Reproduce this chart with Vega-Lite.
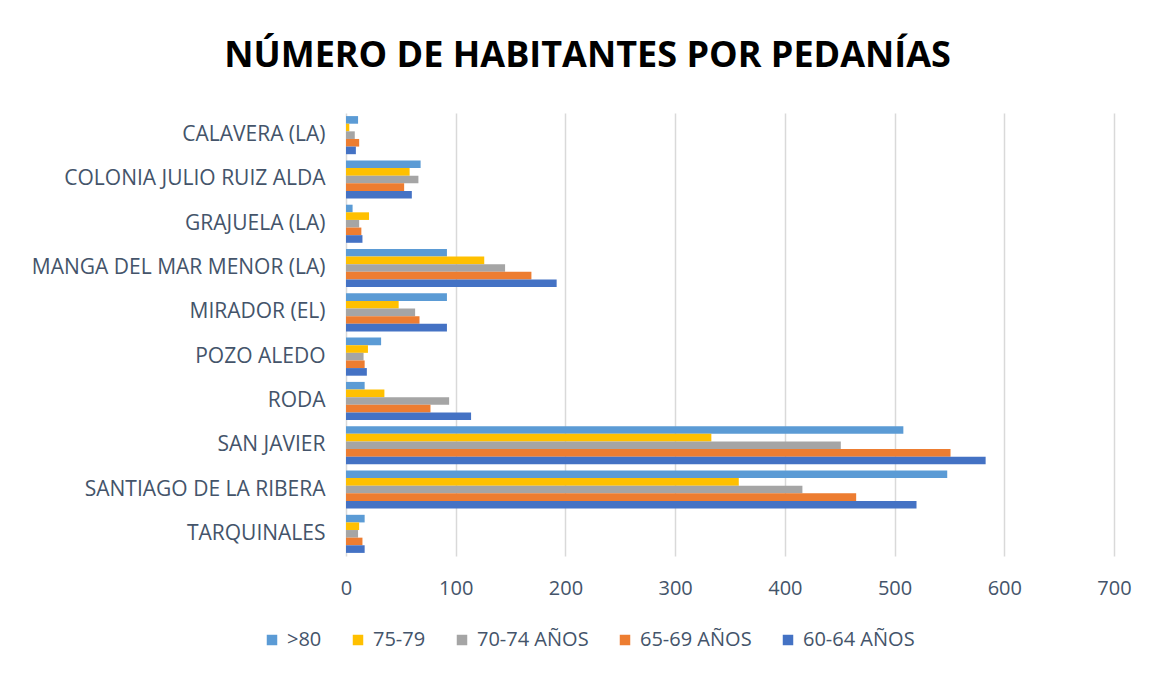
{
  "$schema": "https://vega.github.io/schema/vega-lite/v6.json",
  "width": 768,
  "height": 443,
  "padding": {"left": 16, "top": 38, "right": 20, "bottom": 10},
  "background": "white",
  "title": {
    "text": "NÚMERO DE HABITANTES POR PEDANÍAS",
    "font": "Open Sans",
    "fontSize": 36,
    "fontWeight": "bold",
    "color": "#000000",
    "anchor": "middle",
    "frame": "bounds",
    "offset": 38,
    "dx": 14
  },
  "data": {
    "values": [
      {"pedania": "CALAVERA (LA)", "grupo": ">80", "valor": 11},
      {"pedania": "CALAVERA (LA)", "grupo": "75-79", "valor": 3},
      {"pedania": "CALAVERA (LA)", "grupo": "70-74 AÑOS", "valor": 8},
      {"pedania": "CALAVERA (LA)", "grupo": "65-69 AÑOS", "valor": 12},
      {"pedania": "CALAVERA (LA)", "grupo": "60-64 AÑOS", "valor": 9},
      {"pedania": "COLONIA JULIO RUIZ ALDA", "grupo": ">80", "valor": 68},
      {"pedania": "COLONIA JULIO RUIZ ALDA", "grupo": "75-79", "valor": 58},
      {"pedania": "COLONIA JULIO RUIZ ALDA", "grupo": "70-74 AÑOS", "valor": 66},
      {"pedania": "COLONIA JULIO RUIZ ALDA", "grupo": "65-69 AÑOS", "valor": 53},
      {"pedania": "COLONIA JULIO RUIZ ALDA", "grupo": "60-64 AÑOS", "valor": 60},
      {"pedania": "GRAJUELA (LA)", "grupo": ">80", "valor": 6},
      {"pedania": "GRAJUELA (LA)", "grupo": "75-79", "valor": 21},
      {"pedania": "GRAJUELA (LA)", "grupo": "70-74 AÑOS", "valor": 12},
      {"pedania": "GRAJUELA (LA)", "grupo": "65-69 AÑOS", "valor": 14},
      {"pedania": "GRAJUELA (LA)", "grupo": "60-64 AÑOS", "valor": 15},
      {"pedania": "MANGA DEL MAR MENOR (LA)", "grupo": ">80", "valor": 92},
      {"pedania": "MANGA DEL MAR MENOR (LA)", "grupo": "75-79", "valor": 126},
      {"pedania": "MANGA DEL MAR MENOR (LA)", "grupo": "70-74 AÑOS", "valor": 145},
      {"pedania": "MANGA DEL MAR MENOR (LA)", "grupo": "65-69 AÑOS", "valor": 169},
      {"pedania": "MANGA DEL MAR MENOR (LA)", "grupo": "60-64 AÑOS", "valor": 192},
      {"pedania": "MIRADOR (EL)", "grupo": ">80", "valor": 92},
      {"pedania": "MIRADOR (EL)", "grupo": "75-79", "valor": 48},
      {"pedania": "MIRADOR (EL)", "grupo": "70-74 AÑOS", "valor": 63},
      {"pedania": "MIRADOR (EL)", "grupo": "65-69 AÑOS", "valor": 67},
      {"pedania": "MIRADOR (EL)", "grupo": "60-64 AÑOS", "valor": 92},
      {"pedania": "POZO ALEDO", "grupo": ">80", "valor": 32},
      {"pedania": "POZO ALEDO", "grupo": "75-79", "valor": 20},
      {"pedania": "POZO ALEDO", "grupo": "70-74 AÑOS", "valor": 16},
      {"pedania": "POZO ALEDO", "grupo": "65-69 AÑOS", "valor": 17},
      {"pedania": "POZO ALEDO", "grupo": "60-64 AÑOS", "valor": 19},
      {"pedania": "RODA", "grupo": ">80", "valor": 17},
      {"pedania": "RODA", "grupo": "75-79", "valor": 35},
      {"pedania": "RODA", "grupo": "70-74 AÑOS", "valor": 94},
      {"pedania": "RODA", "grupo": "65-69 AÑOS", "valor": 77},
      {"pedania": "RODA", "grupo": "60-64 AÑOS", "valor": 114},
      {"pedania": "SAN JAVIER", "grupo": ">80", "valor": 508},
      {"pedania": "SAN JAVIER", "grupo": "75-79", "valor": 333},
      {"pedania": "SAN JAVIER", "grupo": "70-74 AÑOS", "valor": 451},
      {"pedania": "SAN JAVIER", "grupo": "65-69 AÑOS", "valor": 551},
      {"pedania": "SAN JAVIER", "grupo": "60-64 AÑOS", "valor": 583},
      {"pedania": "SANTIAGO DE LA RIBERA", "grupo": ">80", "valor": 548},
      {"pedania": "SANTIAGO DE LA RIBERA", "grupo": "75-79", "valor": 358},
      {"pedania": "SANTIAGO DE LA RIBERA", "grupo": "70-74 AÑOS", "valor": 416},
      {"pedania": "SANTIAGO DE LA RIBERA", "grupo": "65-69 AÑOS", "valor": 465},
      {"pedania": "SANTIAGO DE LA RIBERA", "grupo": "60-64 AÑOS", "valor": 520},
      {"pedania": "TARQUINALES", "grupo": ">80", "valor": 17},
      {"pedania": "TARQUINALES", "grupo": "75-79", "valor": 12},
      {"pedania": "TARQUINALES", "grupo": "70-74 AÑOS", "valor": 11},
      {"pedania": "TARQUINALES", "grupo": "65-69 AÑOS", "valor": 15},
      {"pedania": "TARQUINALES", "grupo": "60-64 AÑOS", "valor": 17}
    ]
  },
  "mark": {"type": "bar"},
  "encoding": {
    "y": {
      "field": "pedania",
      "type": "nominal",
      "sort": ["CALAVERA (LA)", "COLONIA JULIO RUIZ ALDA", "GRAJUELA (LA)", "MANGA DEL MAR MENOR (LA)", "MIRADOR (EL)", "POZO ALEDO", "RODA", "SAN JAVIER", "SANTIAGO DE LA RIBERA", "TARQUINALES"],
      "scale": {"paddingInner": 0.14, "paddingOuter": 0.07},
      "axis": {
        "title": null,
        "labelFont": "Open Sans",
        "labelFontSize": 21,
        "labelColor": "#44546A",
        "ticks": false,
        "domain": false,
        "labelPadding": 21,
        "minExtent": 330,
        "maxExtent": 330,
        "labelLimit": 400
      }
    },
    "yOffset": {
      "field": "grupo",
      "sort": [">80", "75-79", "70-74 AÑOS", "65-69 AÑOS", "60-64 AÑOS"]
    },
    "x": {
      "field": "valor",
      "type": "quantitative",
      "scale": {"domain": [0, 700], "nice": false},
      "axis": {
        "title": null,
        "values": [0, 100, 200, 300, 400, 500, 600, 700],
        "grid": true,
        "gridColor": "#D9D9D9",
        "gridWidth": 1.5,
        "domain": false,
        "ticks": false,
        "labelFlush": false,
        "labelPadding": 22,
        "labelFont": "Open Sans",
        "labelFontSize": 20,
        "labelColor": "#44546A"
      }
    },
    "color": {
      "field": "grupo",
      "type": "nominal",
      "sort": [">80", "75-79", "70-74 AÑOS", "65-69 AÑOS", "60-64 AÑOS"],
      "scale": {
        "domain": [">80", "75-79", "70-74 AÑOS", "65-69 AÑOS", "60-64 AÑOS"],
        "range": ["#5B9BD5", "#FFC000", "#A5A5A5", "#ED7D31", "#4472C4"]
      },
      "legend": {
        "title": null,
        "orient": "none",
        "legendX": -84,
        "legendY": 517,
        "direction": "horizontal",
        "symbolType": "square",
        "symbolSize": 110,
        "symbolStrokeWidth": 0,
        "labelFont": "Open Sans",
        "labelFontSize": 20,
        "labelColor": "#44546A",
        "labelOffset": 5,
        "columnPadding": 26
      }
    }
  },
  "config": {"view": {"stroke": null}}
}
